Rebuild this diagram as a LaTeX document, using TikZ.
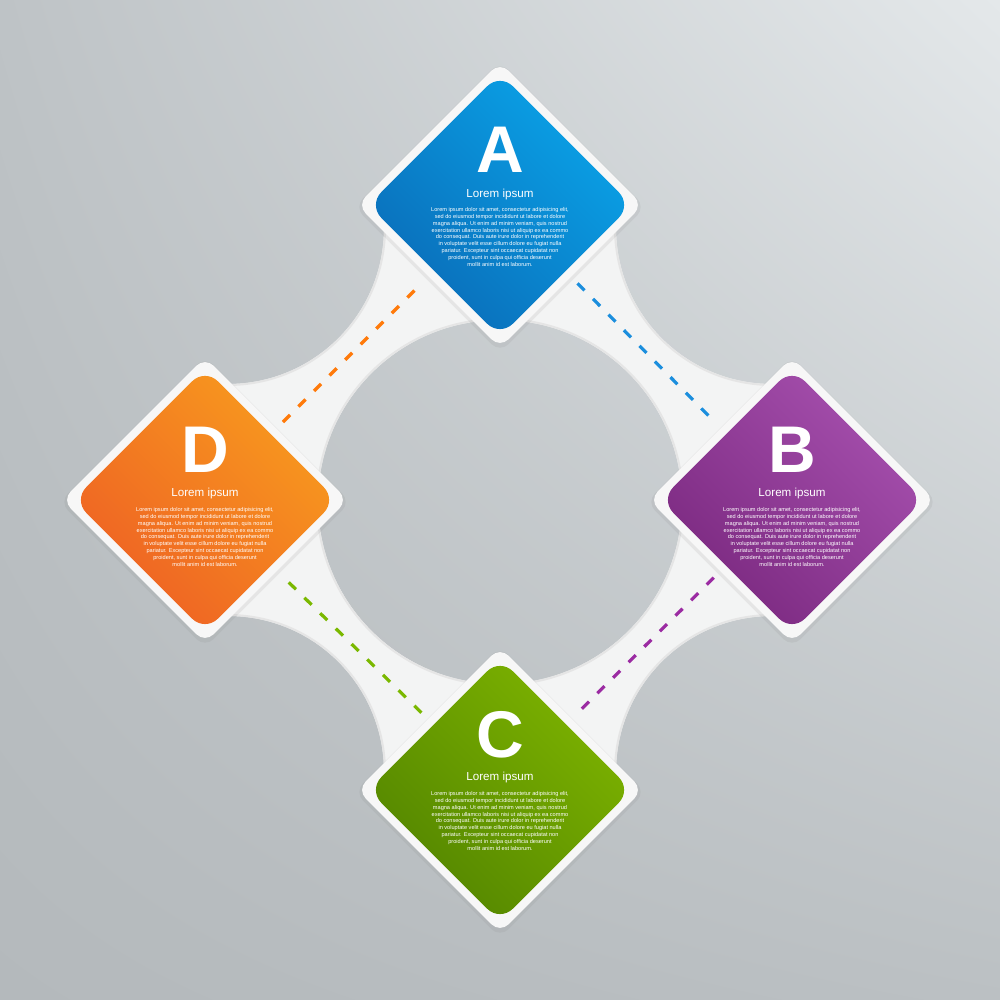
\documentclass[tikz,border=0pt]{standalone}
\usepackage{fontspec}
\setmainfont{Liberation Sans}
\usepackage{tikz}
\usetikzlibrary{shadows,shadings,positioning}

\definecolor{bgTL}{HTML}{BEC3C6}
\definecolor{bgTR}{HTML}{E4E8EA}
\definecolor{bgBL}{HTML}{B4B9BC}
\definecolor{bgBR}{HTML}{BBC0C3}
\definecolor{band}{HTML}{F3F4F4}
\definecolor{frame}{HTML}{F7F7F7}
\definecolor{Alight}{HTML}{0AA3E8}
\definecolor{Adark}{HTML}{0A6CB8}
\definecolor{Blight}{HTML}{A650AE}
\definecolor{Bdark}{HTML}{7A287F}
\definecolor{Clight}{HTML}{7DB300}
\definecolor{Cdark}{HTML}{538500}
\definecolor{Dlight}{HTML}{F89B1E}
\definecolor{Ddark}{HTML}{EE6024}
\definecolor{dashA}{HTML}{1B8EDD}
\definecolor{dashB}{HTML}{9B2BA2}
\definecolor{dashC}{HTML}{7AB800}
\definecolor{dashD}{HTML}{FF7A0A}

\newcommand{\loremtext}{Lorem ipsum dolor sit amet, consectetur adipisicing elit,\\
sed do eiusmod tempor incididunt ut labore et dolore\\
magna aliqua. Ut enim ad minim veniam, quis nostrud\\
exercitation ullamco laboris nisi ut aliquip ex ea commo\\
do consequat. Duis aute irure dolor in reprehenderit\\
in voluptate velit esse cillum dolore eu fugiat nulla\\
pariatur. Excepteur sint occaecat cupidatat non\\
proident, sunt in culpa qui officia deserunt\\
mollit anim id est laborum.}

\begin{document}
\begin{tikzpicture}[x=1pt,y=1pt,
    outer node/.style={rectangle,rotate=45,minimum size=202pt,inner sep=0pt,
      rounded corners=12pt,fill=frame,
      drop shadow={shadow xshift=0pt,shadow yshift=-2pt,shadow scale=1.02,opacity=0.12}},
    inner node/.style={rectangle,rotate=45,minimum size=186pt,inner sep=0pt,rounded corners=18pt},
    letter node/.style={text=white,inner sep=0pt,font=\fontsize{66}{66}\selectfont\bfseries},
    title node/.style={text=white,inner sep=0pt,font=\fontsize{11.6}{13}\selectfont},
    text node/.style={text=white,inner sep=0pt,align=center,font=\fontsize{5.6}{6.9}\selectfont},
    dash line/.style={line width=3.2pt,dash pattern=on 10pt off 12pt,shorten >=9pt,shorten <=9pt}]

  \useasboundingbox (0,0) rectangle (1000,1000);
  \shade[upper left=bgTL,upper right=bgTR,lower left=bgBL,lower right=bgBR] (0,0) rectangle (1000,1000);

  % white band with the round hole
  \begin{scope}[even odd rule]
    \clip (0,0) rectangle (1000,1000) (228,772) circle (156);
    \clip (0,0) rectangle (1000,1000) (772,772) circle (156);
    \clip (0,0) rectangle (1000,1000) (228,228) circle (156);
    \clip (0,0) rectangle (1000,1000) (772,228) circle (156);
    \fill[band] (200,200) rectangle (800,800) (500,498) circle (182);
    \clip (200,200) rectangle (800,800) (500,498) circle (182);
    \draw[black!10,line width=4pt] (500,498) circle (182)
      (228,772) circle (156) (772,772) circle (156)
      (228,228) circle (156) (772,228) circle (156);
  \end{scope}

  \node[outer node] (A) at (500,795) {};
  \node[outer node] (B) at (792,500) {};
  \node[outer node] (C) at (500,210) {};
  \node[outer node] (D) at (205,500) {};

  \node[inner node,top color=Alight,bottom color=Adark,shading angle=-45] (A-fill) at (A) {};
  \node[inner node,top color=Blight,bottom color=Bdark,shading angle=-45] (B-fill) at (B) {};
  \node[inner node,top color=Clight,bottom color=Cdark,shading angle=-45] (C-fill) at (C) {};
  \node[inner node,top color=Dlight,bottom color=Ddark,shading angle=-45] (D-fill) at (D) {};

  \node[letter node] (A-letter) at ([yshift=55]A.center) {A};
  \node[title node]  (A-title)  at ([yshift=10]A.center) {Lorem ipsum};
  \node[text node]   (A-text)   at ([yshift=-32]A.center) {\loremtext};

  \node[letter node] (B-letter) at ([yshift=50]B.center) {B};
  \node[title node]  (B-title)  at ([yshift=6]B.center) {Lorem ipsum};
  \node[text node]   (B-text)   at ([yshift=-37]B.center) {\loremtext};

  \node[letter node] (C-letter) at ([yshift=55]C.center) {C};
  \node[title node]  (C-title)  at ([yshift=12]C.center) {Lorem ipsum};
  \node[text node]   (C-text)   at ([yshift=-31]C.center) {\loremtext};

  \node[letter node] (D-letter) at ([yshift=50]D.center) {D};
  \node[title node]  (D-title)  at ([yshift=6]D.center) {Lorem ipsum};
  \node[text node]   (D-text)   at ([yshift=-37]D.center) {\loremtext};

  % dashed links along the band
  \draw[dash line,dashD] (D) -- (A);
  \draw[dash line,dashA] (A) -- (B);
  \draw[dash line,dashB] (B) -- (C);
  \draw[dash line,dashC] (C) -- (D);
\end{tikzpicture}
\end{document}
